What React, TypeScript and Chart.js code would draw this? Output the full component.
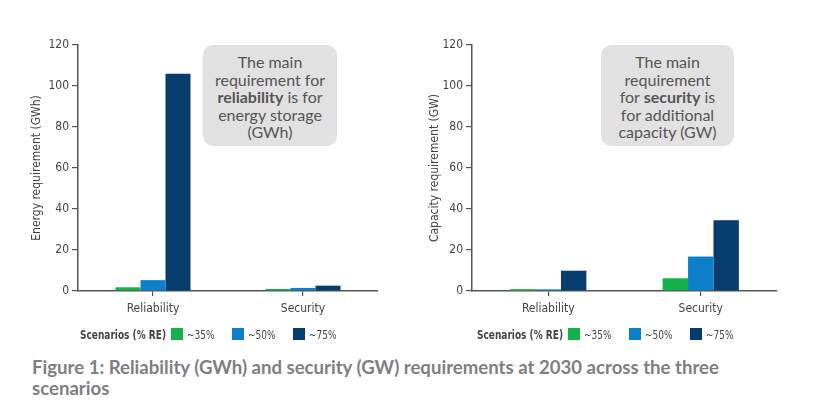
import { useEffect, useRef, type ReactNode } from 'react';
import { Chart, registerables } from 'chart.js';

Chart.register(...registerables);

const categories = ['Reliability', 'Security'];
const scenarioLabels = ['~35%', '~50%', '~75%'];
const scenarioColors = ['#13b24b', '#0b80c8', '#063d6e'];

// Energy requirement (GWh)
const energy35 = [1.8, 1.0];
const energy50 = [5.3, 1.5];
const energy75 = [106, 2.6];

// Capacity requirement (GW)
const capacity35 = [0.9, 6.2];
const capacity50 = [0.8, 16.8];
const capacity75 = [9.9, 34.5];

const yMax = 120;
const yStep = 20;

const narrow = "'Liberation Sans Narrow', 'DejaVu Sans Condensed', Roboto, sans-serif";
const axisGrey = '#555555';
const textGrey = '#444444';

type PanelProps = {
  left: number;
  padRight: number;
  titleOffset: number;
  axisTitle: string;
  series: number[][];
};

function Panel({ left, padRight, titleOffset, axisTitle, series }: PanelProps) {
  const ref = useRef<HTMLCanvasElement>(null);

  useEffect(() => {
    if (!ref.current) return;
    const chart = new Chart(ref.current, {
      type: 'bar',
      data: {
        labels: categories,
        datasets: series.map((values, i) => ({
          label: scenarioLabels[i],
          data: values,
          backgroundColor: scenarioColors[i],
          borderWidth: 0,
          categoryPercentage: 0.5,
          barPercentage: 1,
        })),
      },
      options: {
        animation: false,
        responsive: false,
        maintainAspectRatio: false,
        layout: { padding: { top: 15, right: padRight, bottom: 0, left: 0 } },
        plugins: { legend: { display: false }, tooltip: { enabled: false } },
        scales: {
          x: {
            grid: { offset: false, drawOnChartArea: false, tickLength: 5, color: axisGrey, lineWidth: 1.2 },
            border: { color: axisGrey, width: 1.5 },
            ticks: { color: textGrey, font: { family: narrow, size: 12 }, padding: 6 },
            afterFit: (s: any) => { s.height = 39; },
          },
          y: {
            min: 0,
            max: yMax,
            grid: { drawOnChartArea: false, tickLength: 6, color: axisGrey, lineWidth: 1.2 },
            border: { color: axisGrey, width: 1.5 },
            ticks: { stepSize: yStep, color: textGrey, font: { family: narrow, size: 12 }, padding: 3 },
            title: {
              display: true,
              text: axisTitle,
              color: textGrey,
              font: { family: narrow, size: 12 },
              padding: { top: titleOffset, bottom: 0 },
            },
            afterFit: (s: any) => { s.width = 78; },
          },
        },
      },
    });
    return () => chart.destroy();
  }, []);

  return (
    <canvas
      ref={ref}
      width={400}
      height={300}
      style={{ position: 'absolute', left, top: 30, width: 400, height: 300 }}
    />
  );
}

// squeeze text horizontally to mimic the condensed face of the original
function Narrow({ width, bold, children }: { width: number; bold?: boolean; children: ReactNode }) {
  return (
    <span style={{ display: 'inline-block', width, overflow: 'visible' }}>
      <span style={{ display: 'inline-block', transform: 'scaleX(0.8)', transformOrigin: 'left center', fontWeight: bold ? 'bold' : 'normal' }}>
        {children}
      </span>
    </span>
  );
}

function Legend({ left }: { left: number }) {
  return (
    <div
      style={{
        position: 'absolute', left, top: 326, height: 16, display: 'flex', alignItems: 'center',
        fontFamily: narrow, fontSize: 12.5, color: textGrey, whiteSpace: 'nowrap',
      }}
    >
      <Narrow width={79} bold>Scenarios (% RE)</Narrow>
      <span style={{ width: 12 }} />
      {scenarioLabels.map((label, i) => (
        <span key={label} style={{ display: 'flex', alignItems: 'center', marginRight: 16 }}>
          <span style={{ width: 12, height: 12, background: scenarioColors[i], marginRight: 4 }} />
          <Narrow width={29}>{label}</Narrow>
        </span>
      ))}
    </div>
  );
}

function Note({ left, width, children }: { left: number; width: number; children: ReactNode }) {
  return (
    <div
      style={{
        position: 'absolute', left, top: 45, width, height: 101, boxSizing: 'border-box',
        background: '#e2e1e1', borderRadius: 10, paddingTop: 8, textAlign: 'center',
        fontFamily: 'Lato, sans-serif', fontSize: 16, lineHeight: '17.5px', color: '#555555',
      }}
    >
      {children}
    </div>
  );
}

export default function App() {
  return (
    <div style={{ position: 'absolute', left: 0, top: 0, width: 820, height: 411, background: '#fff', overflow: 'hidden' }}>
      <Panel left={0} padRight={22} titleOffset={30} axisTitle="Energy requirement (GWh)" series={[energy35, energy50, energy75]} />
      <Panel left={394} padRight={17} titleOffset={34} axisTitle="Capacity requirement (GW)" series={[capacity35, capacity50, capacity75]} />
      <Note left={203} width={134}>
        The main<br />requirement for<br /><b>reliability</b> is for<br />energy storage<br />(GWh)
      </Note>
      <Note left={601} width={133}>
        The main<br />requirement<br />for <b>security</b> is<br />for additional<br />capacity (GW)
      </Note>
      <Legend left={80} />
      <Legend left={477} />
      <div
        style={{
          position: 'absolute', left: 32, top: 357, width: 700, fontFamily: 'Lato, sans-serif',
          fontWeight: 'bold', fontSize: 18.6, lineHeight: '21px', color: '#7e7e84',
        }}
      >
        Figure 1: Reliability (GWh) and security (GW) requirements at 2030 across the three scenarios
      </div>
    </div>
  );
}
